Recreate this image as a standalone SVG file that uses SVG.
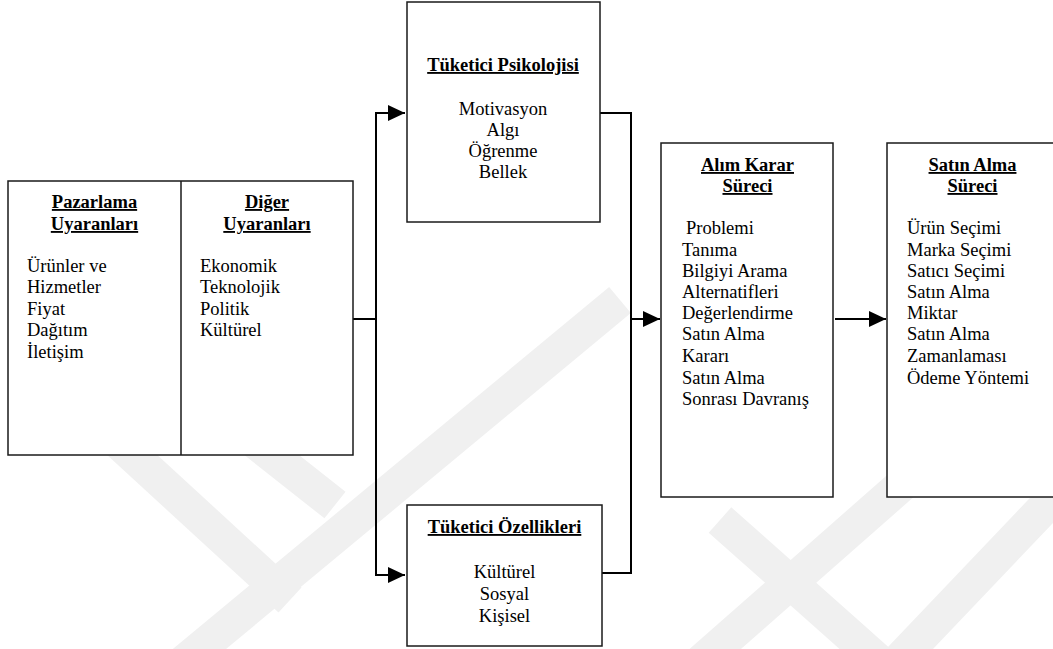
<svg xmlns="http://www.w3.org/2000/svg" width="1053" height="649" viewBox="0 0 1053 649">
<defs>
<style>
.box{fill:#fff;stroke:#1a1a1a;stroke-width:1.5}
.t{font-size:18.5px;fill:#000}
.h{font-weight:bold;text-decoration:underline;text-anchor:middle}
.c{text-anchor:middle}
.con{fill:none;stroke:#000;stroke-width:2}
.wm{stroke:#f0f0f0;stroke-width:34;fill:none}
</style>
<marker id="ah" markerUnits="userSpaceOnUse" markerWidth="18" markerHeight="16" refX="17" refY="8" orient="auto-start-reverse">
<path d="M0,0 L17,8 L0,16 Z" fill="#000"/>
</marker>
</defs>
<rect width="1053" height="649" fill="#fff"/>
<g id="watermark">
<line class="wm" x1="105" y1="430" x2="290" y2="600"/>
<line class="wm" x1="240" y1="430" x2="335" y2="505"/>
<line class="wm" x1="150" y1="690" x2="620" y2="300"/>
<line class="wm" x1="680" y1="680" x2="930" y2="460"/>
<line class="wm" x1="720" y1="520" x2="900" y2="680"/>
<line class="wm" x1="880" y1="680" x2="1080" y2="470"/>
</g>
<g id="connectors">
<polyline class="con" points="353,319 376,319"/>
<polyline class="con" points="405,113 376,113 376,575 405,575" marker-start="url(#ah)" marker-end="url(#ah)"/>
<polyline class="con" points="600,113 631,113 631,573 602,573"/>
<line class="con" x1="631" y1="319" x2="660" y2="319" marker-end="url(#ah)"/>
<line class="con" x1="835" y1="319" x2="886" y2="319" marker-end="url(#ah)"/>
</g>
<g font-family="'Liberation Serif', 'Times New Roman', 'DejaVu Serif', serif">
<g id="stimuli">
<rect class="box" x="8" y="181" width="345" height="274"/>
<line x1="181" y1="181" x2="181" y2="455" stroke="#1a1a1a" stroke-width="1.5"/>
<text class="t h" x="94.5" y="208">Pazarlama</text>
<text class="t h" x="94.5" y="230">Uyaranları</text>
<text class="t" x="27" y="272">Ürünler ve</text>
<text class="t" x="27" y="293">Hizmetler</text>
<text class="t" x="27" y="315">Fiyat</text>
<text class="t" x="27" y="336">Dağıtım</text>
<text class="t" x="27" y="358">İletişim</text>
<text class="t h" x="267" y="208">Diğer</text>
<text class="t h" x="267" y="230">Uyaranları</text>
<text class="t" x="200" y="272">Ekonomik</text>
<text class="t" x="200" y="293">Teknolojik</text>
<text class="t" x="200" y="315">Politik</text>
<text class="t" x="200" y="336">Kültürel</text>
</g>
<g id="psikoloji">
<rect class="box" x="407" y="2" width="193" height="220"/>
<text class="t h" x="503" y="71">Tüketici Psikolojisi</text>
<text class="t c" x="503" y="115">Motivasyon</text>
<text class="t c" x="503" y="136">Algı</text>
<text class="t c" x="503" y="157">Öğrenme</text>
<text class="t c" x="503" y="178">Bellek</text>
</g>
<g id="ozellikler">
<rect class="box" x="407" y="505" width="195" height="141"/>
<text class="t h" x="504.5" y="533">Tüketici Özellikleri</text>
<text class="t c" x="504.5" y="578">Kültürel</text>
<text class="t c" x="504.5" y="600">Sosyal</text>
<text class="t c" x="504.5" y="622">Kişisel</text>
</g>
<g id="karar">
<rect class="box" x="661" y="143" width="172" height="354"/>
<text class="t h" x="747.5" y="171">Alım Karar</text>
<text class="t h" x="747.5" y="192">Süreci</text>
<text class="t" x="686" y="234">Problemi</text>
<text class="t" x="682" y="256">Tanıma</text>
<text class="t" x="682" y="277">Bilgiyi Arama</text>
<text class="t" x="682" y="298">Alternatifleri</text>
<text class="t" x="682" y="319">Değerlendirme</text>
<text class="t" x="682" y="340">Satın Alma</text>
<text class="t" x="682" y="362">Kararı</text>
<text class="t" x="682" y="384">Satın Alma</text>
<text class="t" x="682" y="405">Sonrası Davranış</text>
</g>
<g id="satinalma">
<rect class="box" x="887" y="143" width="180" height="354"/>
<text class="t h" x="972.5" y="171">Satın Alma</text>
<text class="t h" x="972.5" y="192">Süreci</text>
<text class="t" x="907" y="234">Ürün Seçimi</text>
<text class="t" x="907" y="256">Marka Seçimi</text>
<text class="t" x="907" y="277">Satıcı Seçimi</text>
<text class="t" x="907" y="298">Satın Alma</text>
<text class="t" x="907" y="319">Miktar</text>
<text class="t" x="907" y="340">Satın Alma</text>
<text class="t" x="907" y="362">Zamanlaması</text>
<text class="t" x="907" y="384">Ödeme Yöntemi</text>
</g>
</g>
</svg>
